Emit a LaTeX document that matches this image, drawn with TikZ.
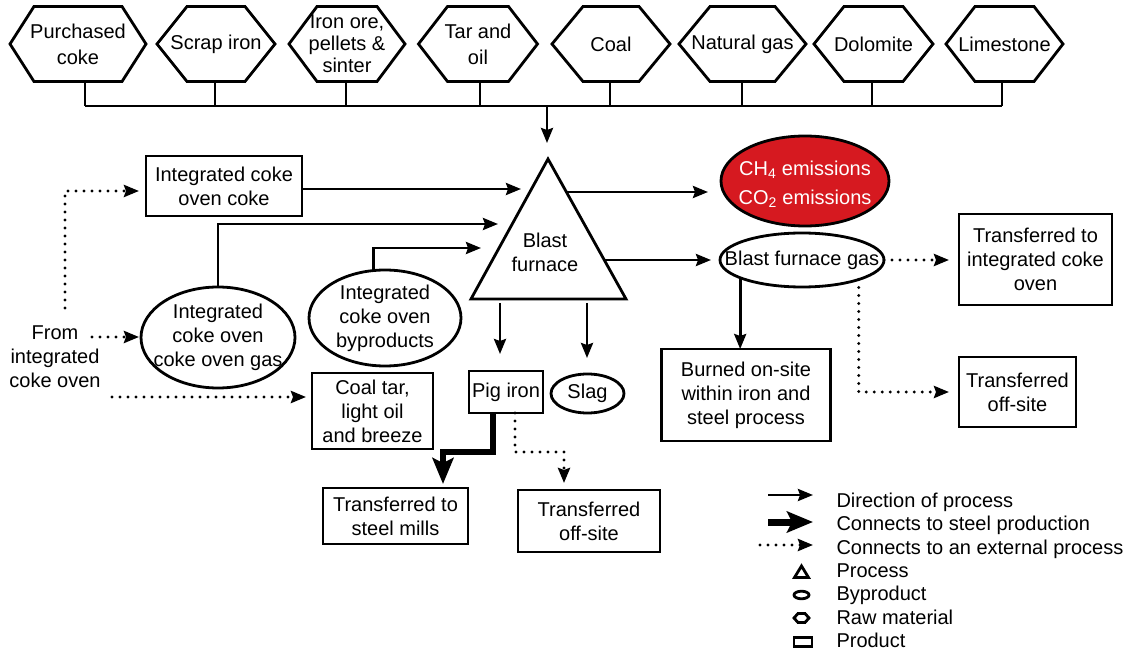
\documentclass[tikz,border=0pt]{standalone}
\usepackage{fontspec}
\setmainfont{Liberation Sans}
\usetikzlibrary{arrows.meta,shapes.geometric,calc}
\definecolor{emred}{RGB}{214,25,32}
\begin{document}
\begin{tikzpicture}[x=1pt,y=-1pt,
  font=\fontsize{20}{24}\selectfont,
  every node/.style={inner sep=0pt, outer sep=0pt, align=center},
  prod/.style={draw, line width=2.8pt, rectangle},
  byprod/.style={draw, line width=2.8pt, ellipse},
  ln/.style={line width=2.8pt, line join=miter},
  arr/.style={line width=2.8pt, -{Stealth[length=15pt,width=12pt,inset=2pt]}},
  thickarr/.style={line width=5.5pt, line join=miter, -{Stealth[length=26pt,width=21pt,inset=5pt]}},
  dotarr/.style={line width=3.2pt, line cap=round, dash pattern=on 0pt off 8pt, -{Stealth[length=15pt,width=12pt,inset=2pt]}},
]
\useasboundingbox (0,0) rectangle (1125,652);

% raw material hexagons
\foreach \n/\cx/\hw/\s/\sx/\t in {
  pc/78/68/24/85/{Purchased\\[2pt]coke},
  si/216/59/30/215/{Scrap iron},
  io/347/58/28/346/{Iron ore,\\[-2pt]pellets \&\\[-2pt]sinter},
  to/478/59.5/29/480/{Tar and\\[2pt]oil},
  co/611/59/31/610/{Coal},
  ng/742.5/63.5/31/742/{Natural gas},
  dl/873.5/59.5/30/872/{Dolomite},
  ls/1004.5/58.5/29/1002/{Limestone}} {
  \node[minimum width=2*\hw*1pt, minimum height=75pt] (\n) at (\cx,44) {\t};
  \draw[ln] (\n.west) -- ([xshift=\s pt]\n.north west) -- ([xshift=-\s pt]\n.north east)
    -- (\n.east) -- ([xshift=-\s pt]\n.south east) -- ([xshift=\s pt]\n.south west) -- cycle;
  \coordinate (stem\n) at (\sx,106);
  \draw[ln] (\n.south -| stem\n) -- (stem\n);
}
\draw[ln] (stempc) -- (stemls);
\coordinate (busM) at (547,106);
\coordinate (bfin) at (547,143);
\draw[arr] (busM) -- (bfin);

% blast furnace
\coordinate (tA) at (548,159);
\coordinate (tL) at (471,299);
\coordinate (tR) at (626,299);
\draw[ln] (tA) -- (tL) -- (tR) -- cycle;
\node (bf) at (545,252) {Blast\\furnace};

% left inputs
\node[prod, minimum width=156pt, minimum height=60pt] (icoke) at (224,186) {Integrated coke\\oven coke};
\node[byprod, minimum width=154pt, minimum height=101pt] (cog) at (218,337.5) {};
\node (cogt) at (cog) {Integrated\\coke oven\\coke oven gas};
\node[byprod, minimum width=152pt, minimum height=96pt] (byp) at (385,318) {};
\node (bypt) at (byp) {Integrated\\coke oven\\byproducts};
\node[prod, minimum width=121pt, minimum height=76pt] (ctar) at (372.5,411) {Coal tar,\\light oil\\and breeze};
\node (from) at (55,357) {From\\integrated\\coke oven};

\coordinate (tin1) at (521,189);
\coordinate (tin2) at (498,224);
\coordinate (tin3) at (481,248);
\draw[arr] (icoke.east |- tin1) -- (tin1);
\draw[arr] (cog.north) |- (tin2);
\draw[arr] (byp.104) |- (tin3);

\coordinate (lstart) at (65,308);
\coordinate (lcorner) at (65,191);
\draw[dotarr, shorten >=7pt] (lstart) -- (lcorner) -- (icoke.west |- lcorner);
\coordinate (fromd) at (92,337);
\draw[dotarr, shorten >=2pt] (fromd) -- (cog.west |- fromd);
\coordinate (ctd) at (112,397);
\draw[dotarr, shorten >=6pt] (ctd) -- (ctar.west |- ctd);

% outputs
\node[prod, minimum width=74pt, minimum height=42pt] (pig) at (506,392) {Pig iron};
\node[byprod, minimum width=73pt, minimum height=39pt] (slag) at (587.5,393.5) {};
\node (slagt) at (slag) {Slag};
\node[prod, minimum width=145pt, minimum height=56pt] (steel) at (395.5,516) {Transferred to\\steel mills};
\node[prod, minimum width=142pt, minimum height=62pt] (offs1) at (589,521) {Transferred\\off-site};
\node[byprod, fill=emred, minimum width=168pt, minimum height=90pt] (ch4) at (805,181) {};
\node[text=white] (ch4t) at ([yshift=-3pt]ch4.center) {CH\textsubscript{4} emissions\\[5pt]CO\textsubscript{2} emissions};
\node[byprod, minimum width=164pt, minimum height=54pt] (bfg) at (802,260) {};
\node (bfgt) at (bfg) {Blast furnace gas};
\node[prod, minimum width=153pt, minimum height=91pt] (tico) at (1035.5,259.5) {Transferred to\\integrated coke\\oven};
\node[prod, minimum width=169pt, minimum height=92pt] (burn) at (746,395) {Burned on-site\\within iron and\\steel process};
\node[prod, minimum width=117pt, minimum height=70pt] (offs2) at (1017.5,392) {Transferred\\off-site};

\coordinate (tout1) at (566,192);
\coordinate (tout2) at (604,260);
\draw[arr, shorten >=13pt] (tout1) -- (ch4.west |- tout1);
\draw[arr, shorten >=9pt] (tout2) -- (bfg.west |- tout2);
\coordinate (tb1) at (500,303);
\coordinate (tb2) at (587,303);
\draw[arr, shorten >=17pt] (tb1) -- (tb1 |- pig.north);
\draw[arr, shorten >=16pt] (tb2) -- (tb2 |- slag.north);

\draw[arr] (bfg.196) -- (bfg.196 |- burn.north);
\draw[dotarr, shorten >=10pt] (bfg.east) -- (tico.west |- bfg.east);
\draw[dotarr, shorten >=10pt] (bfg.341) |- (offs2.west);

\coordinate (pk1) at (493,452);
\coordinate (pk2) at (443,452);
\draw[thickarr, shorten >=4pt] (pig.south -| pk1) -- (pk1) -- (pk2) -- (pk2 |- steel.north);
\coordinate (pd1) at (515,452);
\coordinate (pd2) at (564,452);
\draw[dotarr, shorten >=7pt] (pig.south -| pd1) -- (pd1) -- (pd2) -- (pd2 |- offs1.north);

% legend
\coordinate (lg1a) at (768,495); \coordinate (lg1b) at (813,495);
\draw[arr] (lg1a) -- (lg1b);
\coordinate (lg2a) at (768,522); \coordinate (lg2b) at (813,522);
\draw[thickarr, line width=7pt] (lg2a) -- (lg2b);
\coordinate (lg3a) at (760,545); \coordinate (lg3b) at (813,545);
\draw[dotarr] (lg3a) -- (lg3b);
\draw[ln] (801.5,566) -- (794.5,577.5) -- (808.5,577.5) -- cycle;
\draw[ln] (801.5,595) ellipse [x radius=7.5pt, y radius=3.8pt];
\draw[ln] (794,618) -- (798,613.5) -- (805,613.5) -- (809,618) -- (805,622.5) -- (798,622.5) -- cycle;
\draw[ln] (794,637.5) rectangle (812,646.5);
\foreach \i/\yy/\t in {1/507/{Direction of process}, 2/530.5/{Connects to steel production},
  3/554/{Connects to an external process}, 4/577/{Process}, 5/600.5/{Byproduct},
  6/624/{Raw material}, 7/647/{Product}} {
  \node[anchor=base west] (lt\i) at (836.5,\yy) {\t};
}
\end{tikzpicture}
\end{document}
